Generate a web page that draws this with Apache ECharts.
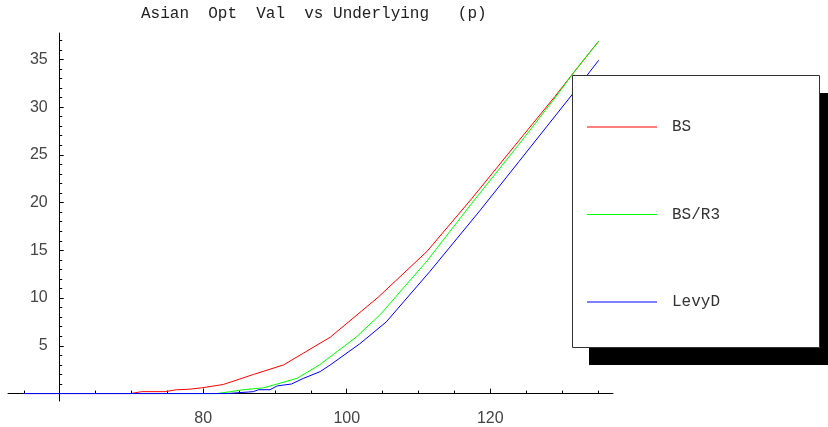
<!DOCTYPE html>
<html>
<head>
<meta charset="utf-8">
<script src="https://cdn.jsdelivr.net/npm/echarts@6/dist/echarts.min.js"></script>
<style>
html,body{margin:0;padding:0;background:#fff;}
#chart{width:828px;height:427px;}
</style>
</head>
<body>
<div id="chart"></div>
<script>
// ---- data ----
const titleText = 'Asian  Opt  Val  vs Underlying   (p)';
const seriesNames = ['BS', 'BS/R3', 'LevyD'];

const underlyingBS = [55, 69.9, 71.4, 74.7, 76.3, 78, 79.8, 82.8, 87, 91.2, 97.7, 104.4, 111.2, 117.4, 124, 129, 131.6, 135.1];
const valuesBS     = [0, 0, 0.2, 0.2, 0.4, 0.45, 0.6, 0.95, 2.0, 3.0, 5.9, 10.1, 14.9, 20.4, 26.5, 31.1, 33.6, 36.9];

const underlyingR3 = [55, 81.9, 83.8, 85.6, 88.4, 90.3, 93.1, 96.2, 101.3, 104.7, 111.2, 117.4, 124, 129, 131.6, 135.1];
const valuesR3     = [0, 0, 0.2, 0.4, 0.6, 1.0, 1.6, 3.0, 5.9, 8.3, 13.9, 19.9, 26.1, 30.95, 33.6, 36.9];

const underlyingLevy = [55, 83.3, 87, 87.7, 89.3, 90.3, 92.3, 94, 96.3, 97.7, 101.8, 105.5, 111.6, 118.6, 124, 131.4, 135.1];
const valuesLevy     = [0, 0, 0.2, 0.4, 0.4, 0.8, 1.0, 1.6, 2.3, 3.0, 5.2, 7.5, 12.8, 19.2, 24.3, 31.3, 34.9];

const xMajorTicks = [80, 100, 120];
const xMinorTicks = [55, 65, 70, 75, 85, 90, 95, 105, 110, 115, 125, 130, 135];
const yMajorTicks = [5, 10, 15, 20, 25, 30, 35];
const yMinorTicks = [1, 2, 3, 4, 6, 7, 8, 9, 11, 12, 13, 14, 16, 17, 18, 19, 21, 22, 23, 24, 26, 27, 28, 29, 31, 32, 33, 34, 36, 37];

const xRange = [52.8, 137.1];
const yRange = [-0.78, 37.76];
const colors = ['#ff0000', '#00ff00', '#0000ff'];

// ---- chart ----
function pairs(xs, ys) { return xs.map((x, i) => [x, ys[i]]); }

const chart = echarts.init(document.getElementById('chart'), null, {renderer: 'canvas'});
const labelFont = {fontFamily: 'Liberation Sans, Arial, sans-serif', fontSize: 16, color: '#444'};
const monoFont = 'Liberation Mono, Courier New, monospace';

const option = {
  animation: false,
  backgroundColor: '#fff',
  title: {
    text: titleText, left: 141, top: 6, padding: 0,
    textStyle: {fontFamily: monoFont, fontSize: 16, fontWeight: 'normal', color: '#222'}
  },
  grid: {left: 8, right: 215, top: 33, bottom: 22.5, containLabel: false},
  xAxis: [
    {
      type: 'value', min: xRange[0], max: xRange[1], position: 'bottom',
      axisLine: {show: true, onZero: true, onZeroAxisIndex: 0, lineStyle: {color: '#000', width: 1}},
      axisTick: {show: true, inside: true, length: 5, customValues: xMajorTicks, lineStyle: {color: '#000'}},
      axisLabel: Object.assign({show: true, margin: 10, customValues: xMajorTicks}, labelFont),
      splitLine: {show: false}
    },
    {
      type: 'value', min: xRange[0], max: xRange[1], position: 'bottom',
      axisLine: {show: false, onZero: true, onZeroAxisIndex: 0},
      axisTick: {show: true, inside: true, length: 3, customValues: xMinorTicks, lineStyle: {color: '#000'}},
      axisLabel: {show: false},
      splitLine: {show: false}
    }
  ],
  yAxis: [
    {
      type: 'value', min: yRange[0], max: yRange[1], position: 'left', offset: -51.7,
      axisLine: {show: true, lineStyle: {color: '#000', width: 1}},
      axisTick: {show: true, inside: true, length: 4, customValues: yMajorTicks, lineStyle: {color: '#000'}},
      axisLabel: Object.assign({show: true, margin: 12, customValues: yMajorTicks}, labelFont),
      splitLine: {show: false}
    },
    {
      type: 'value', min: yRange[0], max: yRange[1], position: 'left', offset: -51.7,
      axisLine: {show: false},
      axisTick: {show: true, inside: true, length: 2.5, customValues: yMinorTicks, lineStyle: {color: '#000'}},
      axisLabel: {show: false},
      splitLine: {show: false}
    }
  ],
  graphic: [
    {type: 'rect', z: 5, silent: true, shape: {x: 589, y: 93, width: 260, height: 272}, style: {fill: '#000'}},
    {type: 'rect', z: 6, silent: true, shape: {x: 572.5, y: 75.5, width: 247, height: 272}, style: {fill: '#fff', stroke: '#333', lineWidth: 1}}
  ],
  legend: {
    z: 10, orient: 'vertical', left: 587, top: 119, padding: 0,
    itemWidth: 70, itemHeight: 14, itemGap: 71.5, selectedMode: false,
    icon: 'path://M0,0L70,0L70,1L0,1Z',
    itemStyle: {borderWidth: 0},
    data: seriesNames,
    textStyle: {fontFamily: monoFont, fontSize: 16, color: '#333', padding: [0, 0, 0, 10], lineHeight: 14}
  },
  series: [
    {name: seriesNames[0], data: pairs(underlyingBS, valuesBS)},
    {name: seriesNames[1], data: pairs(underlyingR3, valuesR3)},
    {name: seriesNames[2], data: pairs(underlyingLevy, valuesLevy)}
  ].map((s, i) => Object.assign({
    type: 'line', xAxisIndex: 0, yAxisIndex: 0, symbol: 'none', smooth: false,
    z: 2, lineStyle: {color: colors[i], width: 1}, itemStyle: {color: colors[i]}
  }, s))
};
chart.setOption(option);
</script>
</body>
</html>
